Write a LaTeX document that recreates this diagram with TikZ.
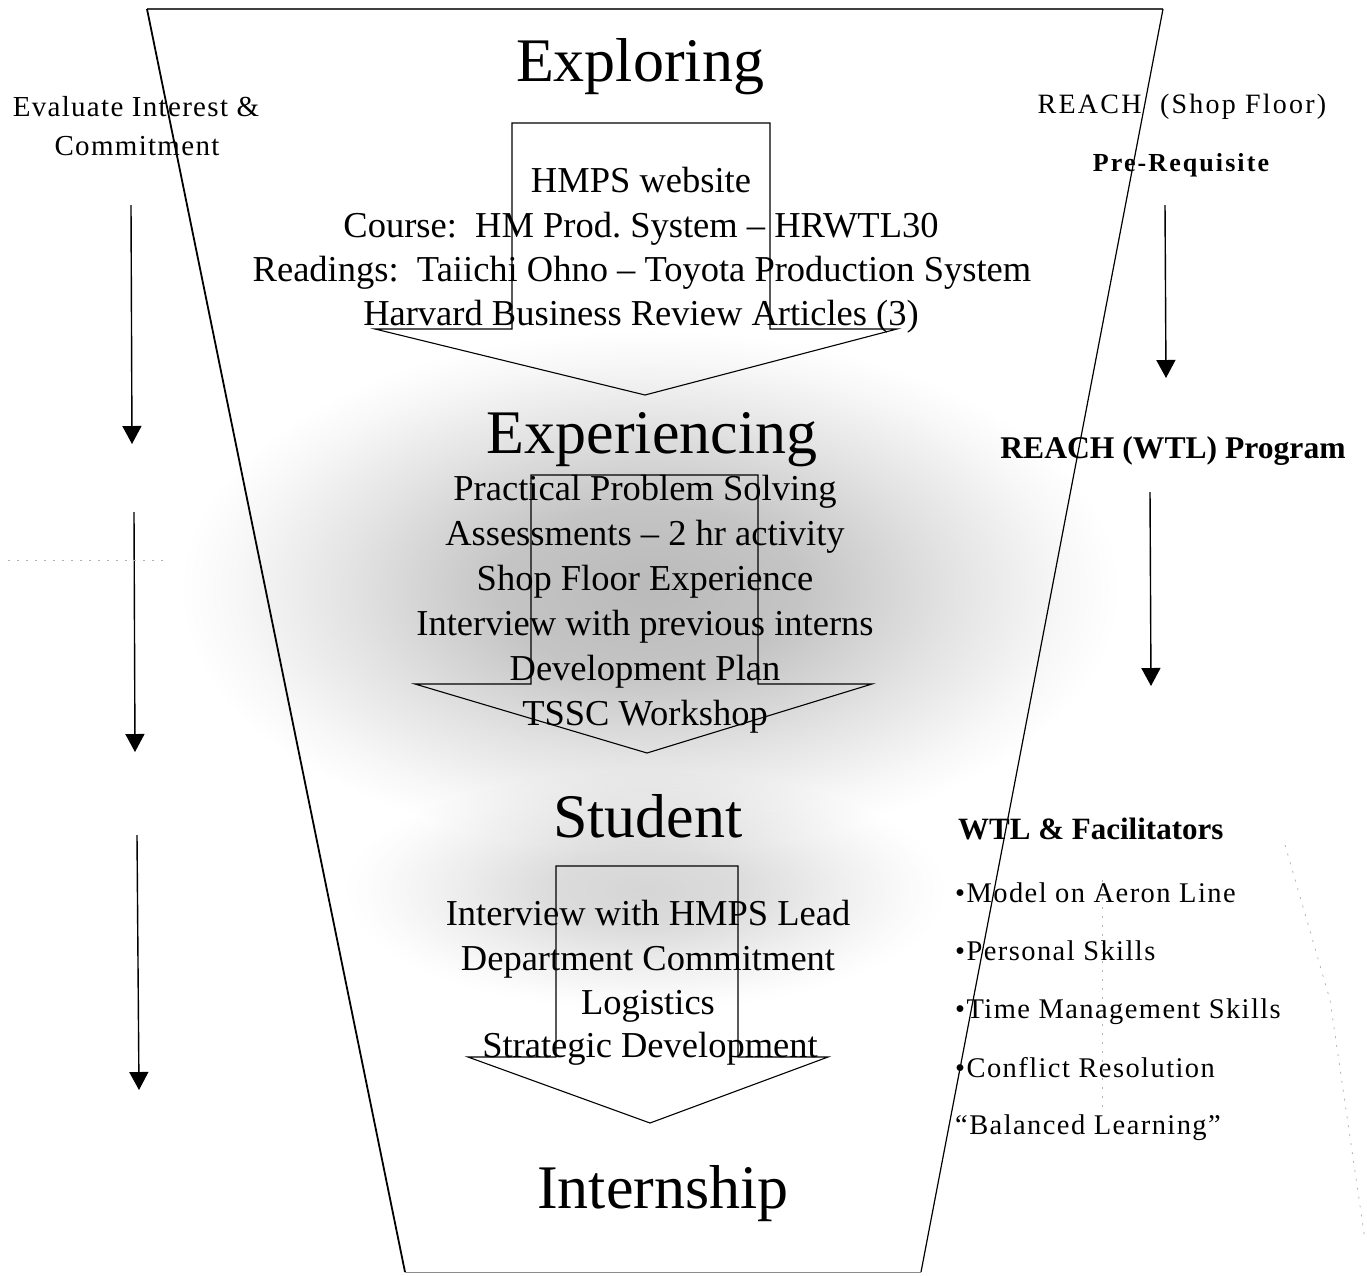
\documentclass[tikz,border=0pt]{standalone}
\usepackage{fontspec}
\setmainfont{Liberation Serif}
\usetikzlibrary{arrows.meta}

% soft grey cloud behind the middle stages (path edge sits at 25bp)
\pgfdeclareradialshading{haze}{\pgfpoint{0bp}{0bp}}{color(0bp)=(black!27); color(8bp)=(black!23); color(16bp)=(black!11); color(22bp)=(black!3); color(25bp)=(white); color(50bp)=(white)}

\begin{document}
\frenchspacing
\begin{tikzpicture}[x=1pt,y=-1pt,
  title/.style={font=\fontsize{62}{70}\selectfont, anchor=base, inner sep=0pt},
  item/.style={font=\fontsize{36.5}{44}\selectfont, anchor=base, inner sep=0pt},
  side/.style={anchor=base, inner sep=0pt},
  bullet/.style={anchor=base west, inner sep=0pt, font=\fontsize{28.5}{34}\selectfont\addfontfeature{LetterSpace=5}},
  blockarrow/.style={line width=1.1pt, line join=miter},
  flow/.style={line width=1.4pt, -{Triangle[width=19pt,length=18pt]}},
  specks/.style={black!30, line width=0.8pt, dash pattern=on 2pt off 7pt}]
\useasboundingbox (0,0) rectangle (1367,1275);

% background haze
\begin{scope}[blend mode=multiply]
\shade[shading=haze, opacity=0.6] (645,890) ellipse [x radius=300, y radius=120];
\shade[shading=haze] (650,590) ellipse [x radius=470, y radius=260];
\end{scope}

% funnel outline
\coordinate (ftl) at (147,9);
\coordinate (ftr) at (1163,9);
\coordinate (fbr) at (921,1272);
\coordinate (fbl) at (405,1272);
\draw[line width=1.2pt, black!75] (ftl) -- (ftr);
\draw[line width=1.8pt] (ftl) -- (fbl);
\draw[line width=1.2pt] (ftr) -- (fbr);
\draw[line width=0.9pt, black!45] (fbl) -- (fbr);

% block arrows between the stages
\draw[blockarrow] (512,123) -- (770,123) -- (770,329) -- (897,329) -- (645,395) -- (375,329) -- (512,329) -- cycle;
\draw[blockarrow] (531,475) -- (758,475) -- (758,684) -- (872,684) -- (647,753) -- (415,684) -- (531,684) -- cycle;
\draw[blockarrow] (556,866) -- (738,866) -- (738,1057) -- (828,1057) -- (650,1123) -- (468,1057) -- (556,1057) -- cycle;

% stage titles
\node[title] (exploring) at (640,81) {Exploring};
\node[title] (experiencing) at (652,453) {Experiencing};
\node[title] (student) at (648,837) {Student};
\node[title] (internship) at (663,1208) {Internship};

% exploring activities
\node[item] (web) at (641,192) {HMPS website};
\node[item] (course) at (641,237) {Course:\ \ HM Prod. System – HRWTL30};
\node[item] (readings) at (642,281) {Readings:\ \ Taiichi Ohno – Toyota Production System};
\node[item] (hbr) at (641,325) {Harvard Business Review Articles (3)};

% experiencing activities
\node[item] (pps) at (645,500) {Practical Problem Solving};
\node[item] (assess) at (645,545) {Assessments – 2 hr activity};
\node[item] (shop) at (645,590) {Shop Floor Experience};
\node[item] (interns) at (645,635) {Interview with previous interns};
\node[item] (devplan) at (645,680) {Development Plan};
\node[item] (tssc) at (645,725) {TSSC Workshop};

% student activities
\node[item] (lead) at (648,925) {Interview with HMPS Lead};
\node[item] (dept) at (648,970) {Department Commitment};
\node[item] (logistics) at (648,1014) {Logistics};
\node[item] (strategic) at (650,1057) {Strategic Development};

% left column
\node[side, font=\fontsize{29}{34}\selectfont\addfontfeature{LetterSpace=4.5}] (eval1) at (136,116) {Evaluate Interest \&};
\node[side, font=\fontsize{29}{34}\selectfont\addfontfeature{LetterSpace=4.5}] (eval2) at (137,155) {Commitment};

\coordinate (la1s) at (131,205);  \coordinate (la1e) at (132,444);
\coordinate (la2s) at (134,512);  \coordinate (la2e) at (135,752);
\coordinate (la3s) at (137,835);  \coordinate (la3e) at (139,1090);
\draw[flow] (la1s) -- (la1e);
\draw[flow] (la2s) -- (la2e);
\draw[flow] (la3s) -- (la3e);

% right column
\node[side, font=\fontsize{28}{34}\selectfont\addfontfeature{LetterSpace=8}] (reach1) at (1182,113) {REACH\ \ (Shop Floor)};
\node[side, font=\fontsize{26}{32}\selectfont\bfseries\addfontfeature{LetterSpace=8}] (prereq) at (1181,171) {Pre-Requisite};
\node[side, font=\fontsize{31.6}{38}\selectfont\bfseries] (reach2) at (1173,458) {REACH (WTL) Program};

\coordinate (ra1s) at (1165,205); \coordinate (ra1e) at (1166,378);
\coordinate (ra2s) at (1150,492); \coordinate (ra2e) at (1151,686);
\draw[flow] (ra1s) -- (ra1e);
\draw[flow] (ra2s) -- (ra2e);

\node[anchor=base west, inner sep=0pt, font=\fontsize{31}{38}\selectfont\bfseries] (wtl) at (958,839) {WTL \& Facilitators};
\node[bullet] (b1) at (955,902) {•Model on Aeron Line};
\node[bullet] (b2) at (955,960) {•Personal Skills};
\node[bullet] (b3) at (955,1018) {•Time Management Skills};
\node[bullet] (b4) at (955,1077) {•Conflict Resolution};
\node[bullet] (b5) at (955,1134) {“Balanced Learning”};

% faint marks
\draw[specks] (8,560) -- (165,560);
\draw[specks] (1102,880) -- (1102,1110);
\draw[specks] (1285,845) -- (1330,1000) -- (1365,1240);
\end{tikzpicture}
\end{document}
